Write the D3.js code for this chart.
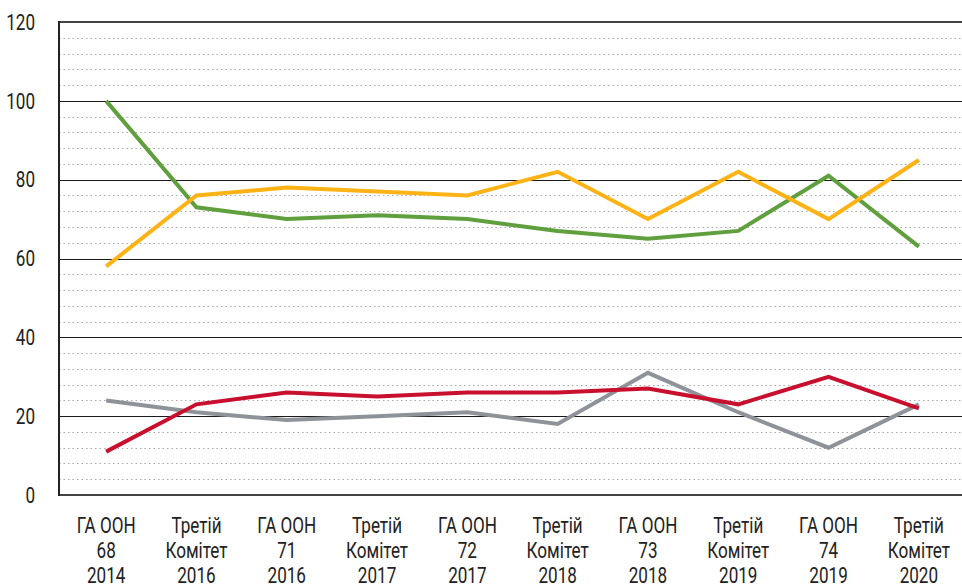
<!DOCTYPE html>
<html><head><meta charset="utf-8">
<script src="https://cdn.jsdelivr.net/npm/d3@7"></script>
<style>
html,body{margin:0;padding:0;background:#fff;overflow:hidden}
text{font-family:"Roboto","DejaVu Sans",sans-serif;fill:#222}
</style></head><body>
<svg id="c" width="962" height="588"></svg>
<script>
const categories = [
  ["ГА ООН","68","2014"],["Третій","Комітет","2016"],["ГА ООН","71","2016"],
  ["Третій","Комітет","2017"],["ГА ООН","72","2017"],["Третій","Комітет","2018"],
  ["ГА ООН","73","2018"],["Третій","Комітет","2019"],["ГА ООН","74","2019"],
  ["Третій","Комітет","2020"]
];
const greenValues  = [100, 73, 70, 71, 70, 67, 65, 67, 81, 63];
const orangeValues = [58, 76, 78, 77, 76, 82, 70, 82, 70, 85];
const redValues    = [11, 23, 26, 25, 26, 26, 27, 23, 30, 22];
const grayValues   = [24, 21, 19, 20, 21, 18, 31, 21, 12, 23];
const yTicks = [0, 20, 40, 60, 80, 100, 120];
const yMinor = d3.range(4, 120, 4).filter(v => v % 20 !== 0);

const series = [
  {values: grayValues, color: "#8d9398"},
  {values: redValues, color: "#c8102e"},
  {values: greenValues, color: "#5f9f3e"},
  {values: orangeValues, color: "#fdb316"}
];

const svg = d3.select("#c");
const x = d3.scaleBand().domain(d3.range(categories.length)).range([61, 964]).padding(0);
const y = d3.scaleLinear().domain([0, 120]).range([495, 22]);
const L = 59, R = 962;
const FS = 21.5;

// measure horizontal squeeze to mimic condensed font
const probe = svg.append("text").attr("font-size", FS).text("ГА ООН");
const kx = 59 / probe.node().getComputedTextLength();
probe.remove();

// minor dotted grid
svg.append("g").selectAll("line").data(yMinor).join("line")
  .attr("x1", L).attr("x2", R).attr("y1", d => Math.round(y(d)) + 0.5).attr("y2", d => Math.round(y(d)) + 0.5)
  .attr("stroke", "#a8a8a8").attr("stroke-width", 1).attr("stroke-dasharray", "1.5,3");

// major grid
svg.append("g").selectAll("line").data(yTicks.filter(d => d > 0 && d < 120)).join("line")
  .attr("x1", L).attr("x2", R).attr("y1", d => Math.round(y(d)) + 0.5).attr("y2", d => Math.round(y(d)) + 0.5)
  .attr("stroke", "#1a1a1a").attr("stroke-width", 1.2);

// top and bottom lines
svg.append("line").attr("x1", L).attr("x2", R).attr("y1", y(120)).attr("y2", y(120))
  .attr("stroke", "#444").attr("stroke-width", 2);
svg.append("line").attr("x1", L).attr("x2", R).attr("y1", y(0)).attr("y2", y(0))
  .attr("stroke", "#444").attr("stroke-width", 2);
// left axis
svg.append("line").attr("x1", L).attr("x2", L).attr("y1", y(120) - 1).attr("y2", y(0) + 1)
  .attr("stroke", "#222").attr("stroke-width", 2);

// y labels
svg.append("g").selectAll("text").data(yTicks).join("text")
  .attr("transform", d => `translate(35,${y(d)}) scale(${kx},1)`)
  .attr("dy", "0.36em").attr("text-anchor", "end")
  .attr("font-size", FS).text(d => d);

// x labels
const xl = svg.append("g").selectAll("text").data(categories).join("text")
  .attr("text-anchor", "middle").attr("font-size", FS)
  .attr("transform", (d, i) => `translate(${x(i) + x.bandwidth() / 2},0) scale(${kx},1)`);
xl.selectAll("tspan").data(d => d).join("tspan")
  .attr("x", 0).attr("y", (d, j) => 533 + j * 25).text(d => d);

// lines
const line = d3.line().x((d, i) => x(i) + x.bandwidth() / 2).y(d => y(d));
svg.append("g").selectAll("path").data(series).join("path")
  .attr("d", s => line(s.values)).attr("fill", "none")
  .attr("stroke", s => s.color).attr("stroke-width", 4)
  .attr("stroke-linejoin", "miter");
</script>
</body></html>
